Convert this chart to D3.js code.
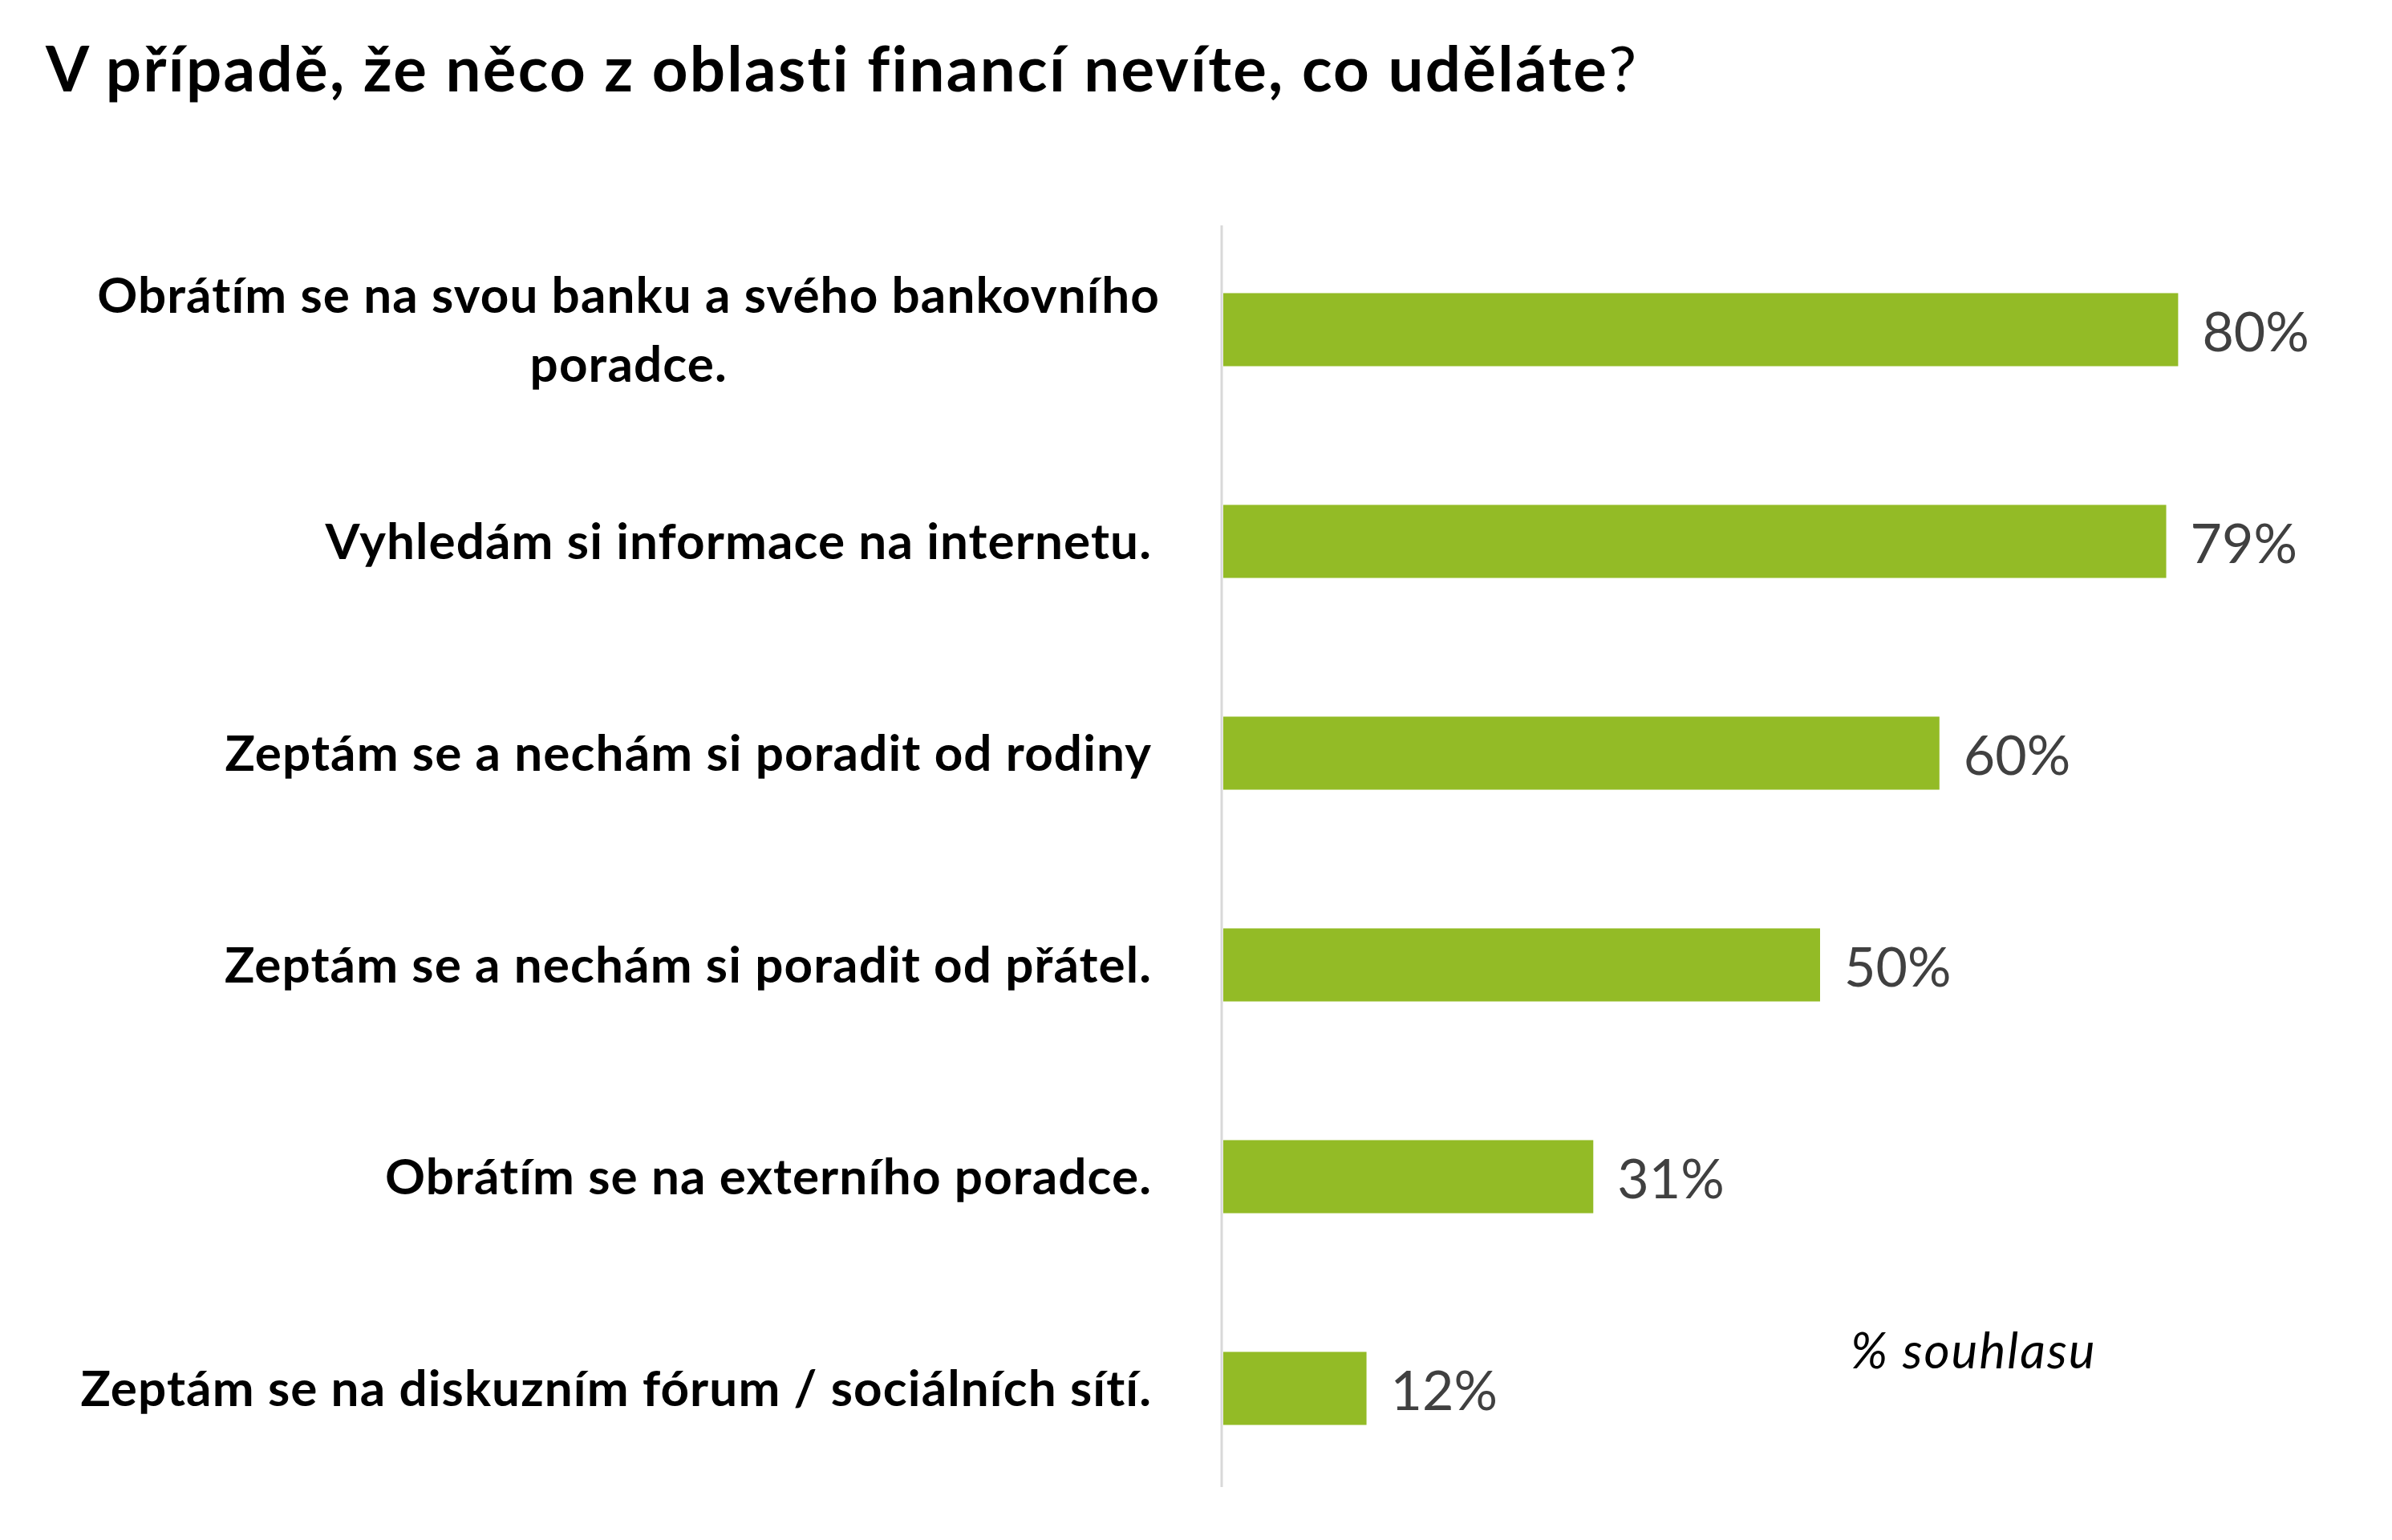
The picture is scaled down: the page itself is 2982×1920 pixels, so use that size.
<!DOCTYPE html>
<html>
<head>
<meta charset="utf-8">
<script src="https://cdn.jsdelivr.net/npm/d3@7"></script>
<style>
  body { margin: 0; background: #fff; }
  svg { display: block; }
</style>
</head>
<body>
<svg id="chart"></svg>
<script>
const width = 2982, height = 1920;

// data
const categories = [
    "Obrátím se na svou banku a svého bankovního poradce.",
    "Vyhledám si informace na internetu.",
    "Zeptám se a nechám si poradit od rodiny",
    "Zeptám se a nechám si poradit od přátel.",
    "Obrátím se na externího poradce.",
    "Zeptám se na diskuzním fórum / sociálních sítí."
]
const values = [80, 79, 60, 50, 31, 12]
const titleText = "V případě, že něco z oblasti financí nevíte, co uděláte"
const noteText = "% souhlasu"

const svg = d3.select("#chart").attr("width", width).attr("height", height)
const fontFam = "Lato, 'Open Sans', sans-serif"

// title (question mark not bold)
const title = svg.append("text")
    .attr("x", 57).attr("y", 114)
    .attr("font-family", fontFam)
    .attr("font-size", 78)
    .attr("letter-spacing", 2.3)
    .attr("fill", "#000")
title.append("tspan").attr("font-weight", "bold").text(titleText)
title.append("tspan").attr("font-weight", "normal").text("?")

const x = d3.scaleLinear().domain([0, 100]).range([1525, 1525 + 1488])
const y = d3.scaleBand().domain(categories).range([279, 1863])
    .paddingInner(0.655).paddingOuter(0.3275)

// vertical axis line
svg.append("line")
    .attr("x1", x(0) - 2).attr("x2", x(0) - 2)
    .attr("y1", 281).attr("y2", 1854)
    .attr("stroke", "#d9d9d9").attr("stroke-width", 3)

svg.append("g").selectAll("rect")
    .data(values)
    .join("rect")
    .attr("x", x(0))
    .attr("y", (d, i) => y(categories[i]))
    .attr("width", d => x(d) - x(0))
    .attr("height", y.bandwidth())
    .attr("fill", "#93bb26")

svg.append("g").selectAll("text")
    .data(values)
    .join("text")
    .attr("x", d => x(d) + 30)
    .attr("y", (d, i) => y(categories[i]) + y.bandwidth() / 2 + 10)
    .attr("dominant-baseline", "middle")
    .attr("font-family", fontFam)
    .attr("font-size", 68)
    .attr("fill", "#404040")
    .text(d => d + "%")

// category labels, wrapped like excel does
const labelRight = 1436, wrapWidth = 1380, lineH = 86
const labelG = svg.append("g")
    .attr("font-family", fontFam)
    .attr("font-weight", "bold")
    .attr("font-size", 62)
    .attr("letter-spacing", 1.1)
    .attr("fill", "#000")

categories.forEach(function(c, i) {
    const cy = y(c) + y.bandwidth() / 2 + 6
    const t = labelG.append("text").attr("dominant-baseline", "middle")
    let words = c.split(" "), lines = [], cur = []
    words.forEach(function(w) {
        cur.push(w)
        t.text(cur.join(" "))
        if (t.node().getComputedTextLength() > wrapWidth && cur.length > 1) {
            cur.pop()
            lines.push(cur.join(" "))
            cur = [w]
        }
    })
    lines.push(cur.join(" "))
    t.text(null)
    if (lines.length === 1) {
        t.attr("x", labelRight).attr("y", cy).attr("text-anchor", "end").text(lines[0])
    } else {
        // centre block like the reference
        const tmp = labelG.append("text").text(lines[0])
        const w0 = tmp.node().getComputedTextLength()
        tmp.remove()
        const mid = labelRight + 10 - w0 / 2
        lines.forEach(function(l, k) {
            t.append("tspan")
                .attr("x", mid)
                .attr("y", cy + (k - (lines.length - 1) / 2) * lineH)
                .attr("text-anchor", "middle")
                .text(l)
        })
    }
})

svg.append("text")
    .attr("x", 2307).attr("y", 1706)
    .attr("font-family", fontFam)
    .attr("font-style", "italic")
    .attr("font-size", 62)
    .attr("letter-spacing", 2)
    .attr("fill", "#000")
    .text(noteText)
</script>
</body>
</html>
